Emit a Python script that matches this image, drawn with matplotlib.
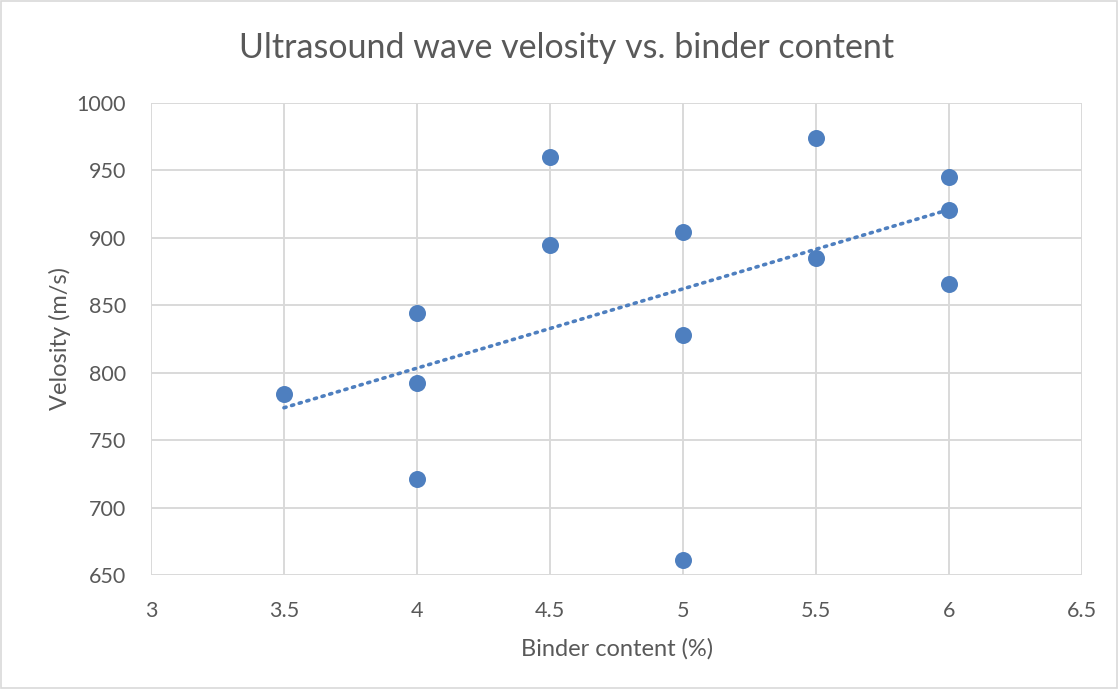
import matplotlib.pyplot as plt
import numpy as np

# Binder content (%) and measured ultrasound velocity (m/s)
binder = [3.5, 4, 4, 4, 4.5, 4.5, 5, 5, 5, 5.5, 5.5, 6, 6, 6]
velocity = [784, 844, 792, 721, 960, 895, 904, 828, 661, 974, 885, 945, 921, 866]

# linear trendline (slope per % binder, intercept in m/s)
trend_slope = 58.8
trend_intercept = 568.2

x_ticks = [3, 3.5, 4, 4.5, 5, 5.5, 6, 6.5]
y_ticks = [650, 700, 750, 800, 850, 900, 950, 1000]

blue = "#4E7FBF"
grid_c = "#D9D9D9"
text_c = "#595959"

plt.rcParams["font.family"] = ["Lato", "DejaVu Sans"]

fig = plt.figure(figsize=(11.18, 6.89), dpi=100)
ax = fig.add_axes([0.135, 0.1655, 0.833, 0.685])

tx = np.array([min(binder), max(binder)])
ax.plot(tx, trend_intercept + trend_slope * tx, color=blue, lw=2.6,
        linestyle=(0, (0.6, 1.6)), dash_capstyle="round", zorder=2)

ax.scatter(binder, velocity, s=150, color=blue, zorder=3, linewidths=0)

ax.set_xlim(3, 6.5)
ax.set_ylim(650, 1000)
ax.set_xticks(x_ticks)
ax.set_xticklabels([f"{t:g}" for t in x_ticks])
ax.set_yticks(y_ticks)
ax.grid(True, color=grid_c, lw=1.4, zorder=0)
ax.set_axisbelow(True)
for s in ax.spines.values():
    s.set_visible(False)
ax.tick_params(length=0, labelsize=15.5, colors=text_c)
ax.tick_params(axis="x", pad=19)
ax.tick_params(axis="y", pad=18)

ax.set_xlabel("Binder content (%)", fontsize=17, color=text_c, labelpad=12)
ax.set_ylabel("Velosity (m/s)", fontsize=17, color=text_c, labelpad=4)
fig.text(0.507, 0.930, "Ultrasound wave velosity vs. binder content", fontsize=24.5,
         color=text_c, ha="center", va="center")

# light chart border
fig.patches.append(plt.Rectangle((0.001, 0.001), 0.998, 0.998, transform=fig.transFigure,
                                 fill=False, edgecolor="#D9D9D9", lw=1.2))

fig.savefig("out.png", dpi=100)
